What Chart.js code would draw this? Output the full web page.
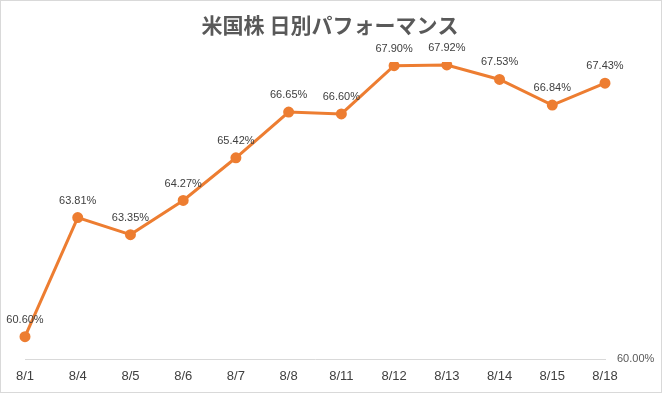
<!DOCTYPE html>
<html>
<head>
<meta charset="utf-8">
<script src="https://cdn.jsdelivr.net/npm/chart.js@4"></script>
<style>
  html, body { margin: 0; padding: 0; background: #fff; }
  #wrap { width: 662px; height: 393px; position: relative; }
</style>
</head>
<body>
<div id="wrap"><canvas id="perfChart" width="662" height="393"></canvas></div>
<script>
// 日付ラベルと日別パフォーマンス (%)
const dates = ['8/1', '8/4', '8/5', '8/6', '8/7', '8/8', '8/11', '8/12', '8/13', '8/14', '8/15', '8/18'];
const performance = [60.60, 63.81, 63.35, 64.27, 65.42, 66.65, 66.60, 67.90, 67.92, 67.53, 66.84, 67.43];
const axisTicks = [60.00];
const axisMin = 60;
const axisMax = 68;
const chartTitle = '米国株 日別パフォーマンス';

// data labels above every point
const pointLabels = {
    id: 'pointLabels',
    afterDatasetsDraw(chart) {
        const ctx = chart.ctx;
        const meta = chart.getDatasetMeta(0);
        ctx.save();
        ctx.font = '11px "Liberation Sans", Arial, sans-serif';
        ctx.fillStyle = '#404040';
        ctx.textAlign = 'center';
        ctx.textBaseline = 'middle';
        meta.data.forEach((pt, i) => {
            ctx.fillText(performance[i].toFixed(2) + '%', pt.x, pt.y - 17);
        });
        ctx.restore();
    }
};

// frame + title (title centred on the whole picture, not the padded area)
const frame = {
    id: 'frame',
    beforeDraw(chart) {
        const ctx = chart.ctx;
        ctx.save();
        ctx.fillStyle = '#ffffff';
        ctx.fillRect(0, 0, chart.width, chart.height);
        ctx.strokeStyle = '#d9d9d9';
        ctx.lineWidth = 1;
        ctx.strokeRect(0.5, 0.5, chart.width - 1, chart.height - 1);
        ctx.font = 'bold 21px "Noto Sans CJK JP", sans-serif';
        ctx.fillStyle = '#595959';
        ctx.textAlign = 'center';
        ctx.textBaseline = 'middle';
        ctx.fillText(chartTitle, 330, 25);
        ctx.restore();
    }
};

new Chart(document.getElementById('perfChart').getContext('2d'), {
    type: 'line',
    data: {
        labels: dates,
        datasets: [{
            data: performance,
            borderColor: '#ED7D31',
            backgroundColor: '#ED7D31',
            borderWidth: 3,
            pointRadius: 4,
            pointBackgroundColor: '#ED7D31',
            pointBorderColor: '#ED7D31',
            tension: 0
        }]
    },
    options: {
        responsive: false,
        animation: false,
        layout: { padding: { left: 25, right: 0, top: 62, bottom: 0 } },
        plugins: {
            legend: { display: false },
            tooltip: { enabled: false },
            title: { display: false }
        },
        scales: {
            x: {
                offset: false,
                grid: { display: false, drawTicks: false },
                border: { display: true, color: '#d9d9d9', width: 1 },
                afterFit(scale) {
                    scale.height = 34;
                },
                ticks: {
                    color: '#404040',
                    padding: 10,
                    maxRotation: 0,
                    autoSkip: false,
                    font: { family: '"Liberation Sans", Arial, sans-serif', size: 13 }
                }
            },
            y: {
                position: 'right',
                min: axisMin,
                max: axisMax,
                grid: { display: false, drawTicks: false },
                border: { display: false },
                afterBuildTicks(scale) {
                    scale.ticks = axisTicks.map(v => ({ value: v }));
                },
                afterFit(scale) {
                    scale.width = 57;
                },
                ticks: {
                    color: '#595959',
                    padding: 12,
                    font: { family: '"Liberation Sans", Arial, sans-serif', size: 11 },
                    callback: v => Number(v).toFixed(2) + '%'
                }
            }
        }
    },
    plugins: [frame, pointLabels]
});
</script>
</body>
</html>
